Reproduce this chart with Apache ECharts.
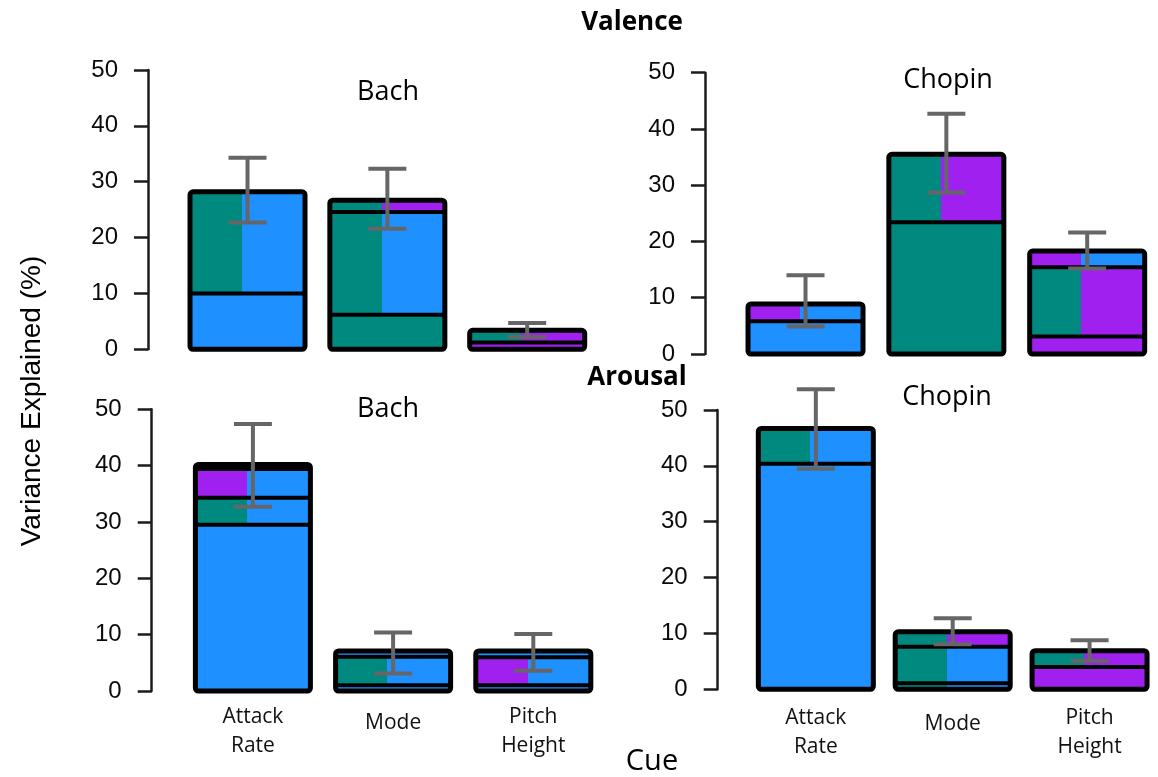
<!DOCTYPE html>
<html>
<head>
<meta charset="utf-8">
<script src="https://cdn.jsdelivr.net/npm/echarts@6/dist/echarts.min.js"></script>
<style>
  html, body { margin: 0; padding: 0; background: #fff; }
  #chart { width: 1158px; height: 777px; }
</style>
</head>
<body>
<div id="chart"></div>
<script>
// Cues on the x axis
const cues = ['Attack Rate', 'Mode', 'Pitch Height'];
const yTicks = [0, 10, 20, 30, 40, 50];

// Cumulative segment tops (% variance explained) for each cue, bottom to top
const valenceBachTops = [[10.0, 28.2], [6.2, 24.6, 26.7], [1.2, 3.4]];
const valenceChopinTops = [[5.8, 8.9], [23.4, 35.5], [3.1, 15.4, 18.3]];
const arousalBachTops = [[29.5, 34.3, 39.4, 40.2], [1.0, 6.1, 7.1], [1.0, 6.0, 7.1]];
const arousalChopinTops = [[40.4, 46.7], [1.1, 7.6, 10.3], [4.0, 6.9]];

// Segment fills: one letter = single component, two letters = left / right mix
// B = blue, T = teal, P = purple
const valenceBachFills = [['B', 'TB'], ['T', 'TB', 'TP'], ['P', 'TP']];
const valenceChopinFills = [['B', 'PB'], ['T', 'TP'], ['P', 'TP', 'PB']];
const arousalBachFills = [['B', 'TB', 'PB', 'B'], ['B', 'TB', 'B'], ['B', 'PB', 'B']];
const arousalChopinFills = [['B', 'TB'], ['TB', 'TB', 'TP'], ['P', 'TP']];

// Error bar ranges [low, high]
const valenceBachErr = [[22.7, 34.3], [21.6, 32.3], [2.2, 4.7]];
const valenceChopinErr = [[4.9, 14.0], [28.7, 42.7], [15.2, 21.6]];
const arousalBachErr = [[32.7, 47.4], [3.1, 10.4], [3.6, 10.1]];
const arousalChopinErr = [[39.5, 53.7], [8.05, 12.7], [5.1, 8.8]];

const palette = { B: '#1E90FF', T: '#00897F', P: '#A020F0' };
const SPLIT = 0.45;
const BAR_W = 115;

function fillFor(code) {
  if (code.length === 1) return palette[code];
  const a = palette[code[0]], b = palette[code[1]];
  return {
    type: 'linear', x: 0, y: 0, x2: 1, y2: 0,
    colorStops: [
      { offset: 0, color: a }, { offset: SPLIT, color: a },
      { offset: SPLIT, color: b }, { offset: 1, color: b }
    ]
  };
}

const panels = [
  { tops: valenceBachTops, fills: valenceBachFills, err: valenceBachErr,
    grid: { left: 177.6, top: 70, width: 419.5, height: 279.3 }, offset: 29.6, cueLabels: false },
  { tops: valenceChopinTops, fills: valenceChopinFills, err: valenceChopinErr,
    grid: { left: 735.1, top: 72.7, width: 422.5, height: 281.3 }, offset: 30.1, cueLabels: false },
  { tops: arousalBachTops, fills: arousalBachFills, err: arousalBachErr,
    grid: { left: 182.8, top: 409.3, width: 420.6, height: 281.7 }, offset: 31.1, cueLabels: true, labelMargin: 12 },
  { tops: arousalChopinTops, fills: arousalChopinFills, err: arousalChopinErr,
    grid: { left: 747.4, top: 410, width: 418.8, height: 279.3 }, offset: 29.7, cueLabels: true, labelMargin: 14 }
];

const AXIS_COLOR = '#1c1c1c';
const grids = [], xAxes = [], yAxes = [], series = [];

// Stacked bar: filled segments, black dividers between them, black outline
function stackedBar(p) {
  return (params, api) => {
    const i = api.value(0);
    const tops = p.tops[i], fills = p.fills[i];
    const cx = api.coord([i, 0])[0];
    const x0 = cx - BAR_W / 2;
    const yOf = v => api.coord([i, v])[1];
    const children = [];
    let prev = 0;
    tops.forEach((t, k) => {
      const yb = yOf(prev), yt = yOf(t);
      children.push({ type: 'rect', shape: { x: x0, y: yt, width: BAR_W, height: yb - yt },
        style: { fill: fillFor(fills[k]) } });
      prev = t;
    });
    tops.slice(0, -1).forEach(t => {
      const y = yOf(t);
      children.push({ type: 'line', shape: { x1: x0, y1: y, x2: x0 + BAR_W, y2: y },
        style: { stroke: '#000', lineWidth: 4 } });
    });
    const yTop = yOf(tops[tops.length - 1]), y0 = yOf(0);
    children.push({ type: 'rect', shape: { x: x0, y: yTop, width: BAR_W, height: y0 - yTop, r: 3 },
      style: { fill: null, stroke: '#000', lineWidth: 5 } });
    return { type: 'group', children };
  };
}

panels.forEach((p, g) => {
  grids.push(Object.assign({ containLabel: false }, p.grid));
  xAxes.push({
    type: 'category', gridIndex: g, data: cues,
    axisLine: { show: false }, axisTick: { show: false },
    axisLabel: {
      show: p.cueLabels, margin: p.labelMargin || 12, interval: 0,
      formatter: v => v.indexOf(' ') > 0 ? v.replace(' ', '\n') : '{m|' + v + '}',
      fontFamily: '"Open Sans", sans-serif', fontSize: 21, lineHeight: 29, color: '#111',
      rich: { m: { fontFamily: '"Open Sans", sans-serif', fontSize: 21, lineHeight: 29, padding: [12, 0, 0, 0], color: '#111' } }
    }
  });
  yAxes.push({
    type: 'value', gridIndex: g, min: yTicks[0], max: yTicks[yTicks.length - 1], interval: 10,
    offset: p.offset,
    axisLine: { show: true, lineStyle: { color: AXIS_COLOR, width: 2.5 } },
    axisTick: { show: true, length: 14, lineStyle: { color: AXIS_COLOR, width: 2.5 } },
    axisLabel: { margin: 30, fontFamily: '"Liberation Sans", Arial, sans-serif', fontSize: 24, color: '#0a0a0a' },
    splitLine: { show: false }
  });

  series.push({
    type: 'custom', xAxisIndex: g, yAxisIndex: g, z: 2,
    data: p.tops.map((t, i) => [i, t[t.length - 1]]),
    encode: { x: 0, y: 1 },
    renderItem: stackedBar(p)
  });

  series.push({
    type: 'custom', xAxisIndex: g, yAxisIndex: g, z: 5,
    data: p.err.map((e, i) => [i, e[0], e[1]]),
    encode: { x: 0, y: [1, 2] },
    renderItem: (params, api) => {
      const lo = api.coord([api.value(0), api.value(1)]);
      const hi = api.coord([api.value(0), api.value(2)]);
      const half = 19;
      const style = { stroke: '#666', lineWidth: 4, fill: null };
      return {
        type: 'group',
        children: [
          { type: 'line', shape: { x1: lo[0], y1: lo[1], x2: hi[0], y2: hi[1] }, style },
          { type: 'line', shape: { x1: hi[0] - half, y1: hi[1], x2: hi[0] + half, y2: hi[1] }, style },
          { type: 'line', shape: { x1: lo[0] - half, y1: lo[1], x2: lo[0] + half, y2: lo[1] }, style }
        ]
      };
    }
  });
});

function label(text, x, y, font, extra) {
  return Object.assign({
    type: 'text', x, y, z: 10,
    style: { text, font, fill: '#000', textAlign: 'center', textVerticalAlign: 'middle' }
  }, extra || {});
}

const body = '"Open Sans", sans-serif';
const graphics = [
  label('Valence', 632, 23, 'bold 26px ' + body),
  label('Arousal', 637, 378, 'bold 26px ' + body),
  label('Bach', 388, 92, '27px ' + body),
  label('Chopin', 948, 80, '27px ' + body),
  label('Bach', 388, 409, '27px ' + body),
  label('Chopin', 947, 397, '27px ' + body),
  label('Cue', 652, 762, '29px ' + body),
  label('Variance Explained (%)', 32, 401, '28px "Liberation Sans", Arial, sans-serif', { rotation: Math.PI / 2 })
];

const chart = echarts.init(document.getElementById('chart'), null, { renderer: 'canvas' });
chart.setOption({
  animation: false,
  backgroundColor: '#fff',
  grid: grids,
  xAxis: xAxes,
  yAxis: yAxes,
  series,
  graphic: graphics
});
</script>
</body>
</html>
